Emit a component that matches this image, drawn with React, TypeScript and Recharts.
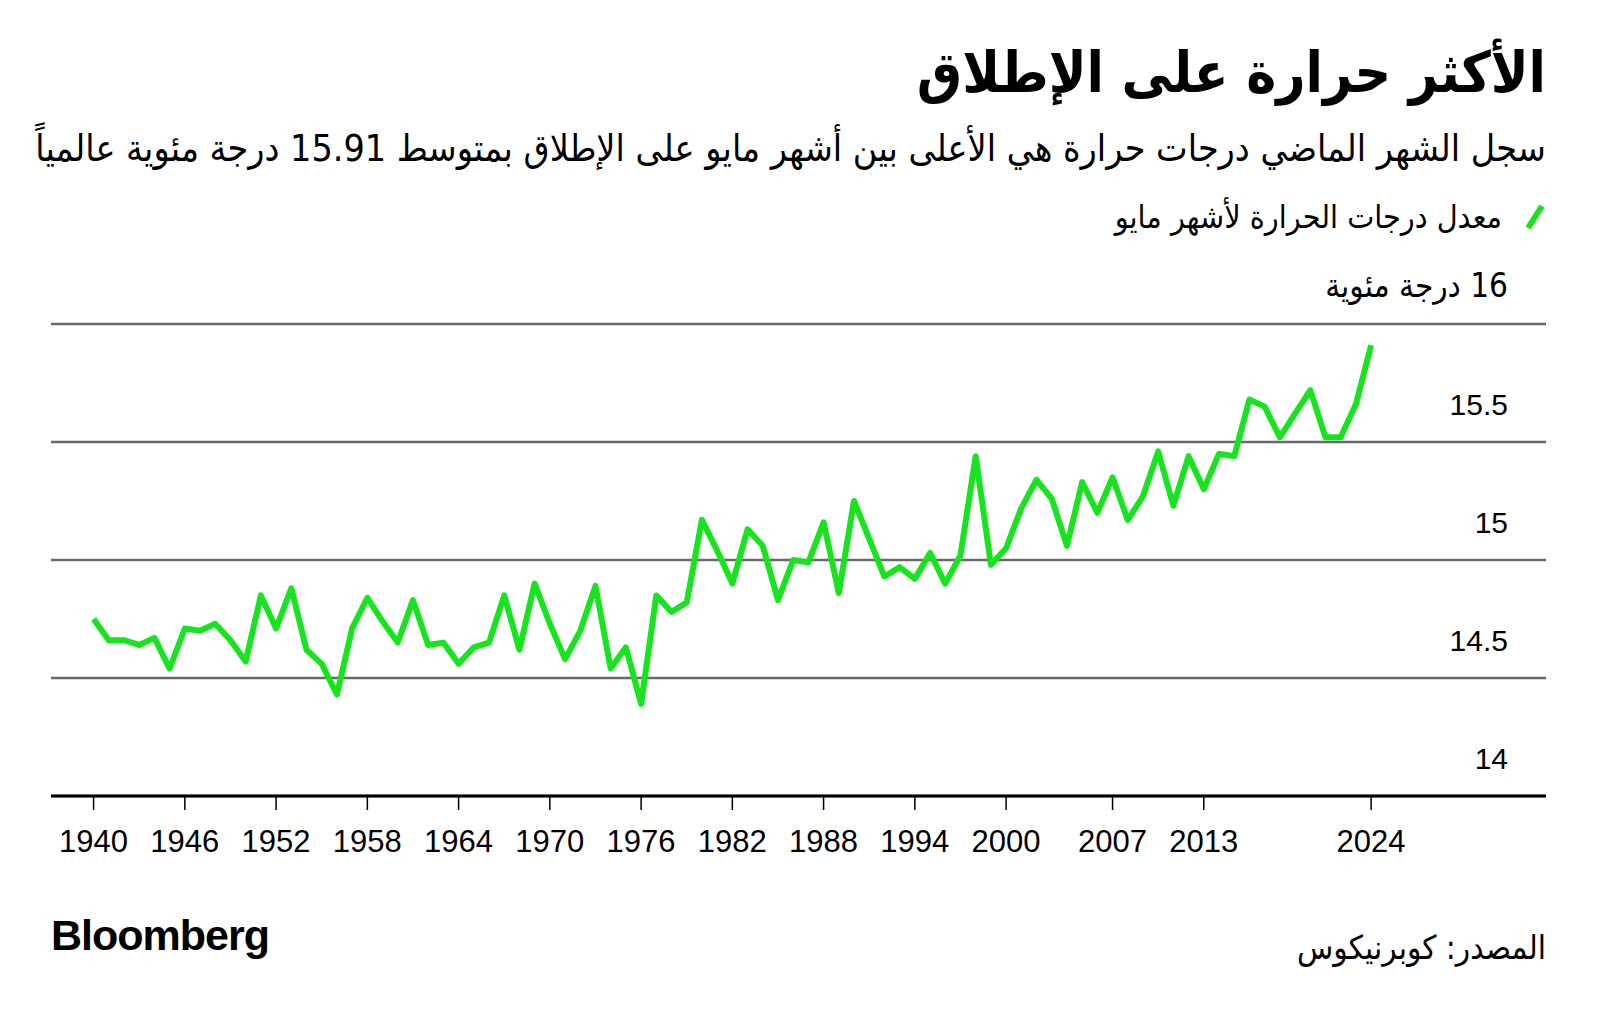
import React from 'react';
import { LineChart, Line, XAxis, YAxis, CartesianGrid } from 'recharts';

// May average global temperature, °C (Copernicus)
const years = [
  1940, 1941, 1942, 1943, 1944, 1945, 1946, 1947, 1948, 1949,
  1950, 1951, 1952, 1953, 1954, 1955, 1956, 1957, 1958, 1959,
  1960, 1961, 1962, 1963, 1964, 1965, 1966, 1967, 1968, 1969,
  1970, 1971, 1972, 1973, 1974, 1975, 1976, 1977, 1978, 1979,
  1980, 1981, 1982, 1983, 1984, 1985, 1986, 1987, 1988, 1989,
  1990, 1991, 1992, 1993, 1994, 1995, 1996, 1997, 1998, 1999,
  2000, 2001, 2002, 2003, 2004, 2005, 2006, 2007, 2008, 2009,
  2010, 2011, 2012, 2013, 2014, 2015, 2016, 2017, 2018, 2019,
  2020, 2021, 2022, 2023, 2024,
];

const mayTemps = [
  14.75, 14.66, 14.66, 14.64, 14.67, 14.54, 14.71, 14.7, 14.73, 14.66,
  14.57, 14.85, 14.71, 14.88, 14.62, 14.56, 14.43, 14.71, 14.84, 14.74,
  14.65, 14.83, 14.64, 14.65, 14.56, 14.63, 14.65, 14.85, 14.62, 14.9,
  14.73, 14.58, 14.7, 14.89, 14.54, 14.63, 14.39, 14.85, 14.78, 14.82,
  15.17, 15.04, 14.9, 15.13, 15.06, 14.83, 15.0, 14.99, 15.16, 14.86,
  15.25, 15.09, 14.93, 14.97, 14.92, 15.03, 14.9, 15.02, 15.44, 14.98,
  15.05, 15.22, 15.34, 15.26, 15.06, 15.33, 15.2, 15.35, 15.17, 15.27,
  15.46, 15.23, 15.44, 15.3, 15.45, 15.44, 15.68, 15.65, 15.52, 15.62,
  15.72, 15.52, 15.52, 15.66, 15.91,
];

const xTicks = [1940, 1946, 1952, 1958, 1964, 1970, 1976, 1982, 1988, 1994, 2000, 2007, 2013, 2024];
const yTicks = [14, 14.5, 15, 15.5, 16];
const yTopLabel = '16 درجة مئوية';

const GREEN = '#17e41f';
const ARABIC_FONT = '"DejaVu Sans Condensed", "DejaVu Sans", sans-serif';
const NUM_FONT = '"Liberation Sans", Arial, sans-serif';

const data = years.map((year, i) => ({ year, temp: mayTemps[i] }));

const renderYTick = (props: any) => {
  const { x, y, payload } = props;
  const isTop = payload.value === 16;
  return (
    <text
      key={`yt-${payload.value}`}
      x={x - 38}
      y={y - 27}
      textAnchor="start"
      direction="rtl"
      fill="#000"
      fontSize={isTop ? 33 : 30}
      fontFamily={isTop ? ARABIC_FONT : NUM_FONT}
    >
      {isTop ? yTopLabel : String(payload.value)}
    </text>
  );
};

export default function App() {
  return (
    <div
      style={{
        position: 'absolute',
        left: 0,
        top: 0,
        width: 1600,
        height: 1016,
        background: '#fff',
        overflow: 'hidden',
      }}
    >
      <LineChart
        width={1600}
        height={1016}
        data={data}
        margin={{ top: 324, right: 53, bottom: 160, left: 51 }}
        style={{ position: 'absolute', left: 0, top: 0 }}
      >
        <CartesianGrid horizontal vertical={false} stroke="#66696d" strokeWidth={2.5} />
        <XAxis
          dataKey="year"
          type="number"
          domain={[1937.2, 2035.5]}
          ticks={xTicks}
          height={60}
          axisLine={{ stroke: '#000', strokeWidth: 3 }}
          tickLine={{ stroke: '#000', strokeWidth: 1.5 }}
          tickSize={14}
          tickMargin={20}
          tick={{ fill: '#000', fontSize: 31, fontFamily: NUM_FONT }}
          interval={0}
        />
        <YAxis
          orientation="right"
          domain={[14, 16]}
          ticks={yTicks}
          width={1}
          axisLine={false}
          tickLine={false}
          tickSize={0}
          tickMargin={0}
          tick={renderYTick}
          interval={0}
        />
        <Line
          type="linear"
          dataKey="temp"
          stroke={GREEN}
          strokeWidth={6}
          strokeLinejoin="round"
          dot={false}
          isAnimationActive={false}
        />
      </LineChart>

      <div
        dir="rtl"
        style={{
          position: 'absolute',
          right: 54,
          top: 45,
          fontFamily: ARABIC_FONT,
          fontWeight: 700,
          fontSize: 56.5,
          lineHeight: 1,
          color: '#000',
          whiteSpace: 'nowrap',
        }}
      >
        الأكثر حرارة على الإطلاق
      </div>

      <div
        dir="rtl"
        style={{
          position: 'absolute',
          right: 54,
          top: 130,
          fontFamily: ARABIC_FONT,
          fontSize: 37.3,
          lineHeight: 1,
          color: '#000',
          whiteSpace: 'nowrap',
        }}
      >
        سجل الشهر الماضي درجات حرارة هي الأعلى بين أشهر مايو على الإطلاق بمتوسط 15.91 درجة مئوية عالمياً
      </div>

      <div
        dir="rtl"
        style={{
          position: 'absolute',
          right: 54,
          top: 201,
          display: 'flex',
          alignItems: 'center',
          fontFamily: ARABIC_FONT,
          fontSize: 32,
          lineHeight: 1,
          color: '#000',
          whiteSpace: 'nowrap',
        }}
      >
        <svg width={22} height={28} style={{ marginLeft: 22 }}>
          <line x1={4} y1={25} x2={18} y2={3} stroke={GREEN} strokeWidth={6} />
        </svg>
        <span>معدل درجات الحرارة لأشهر مايو</span>
      </div>

      <div
        style={{
          position: 'absolute',
          left: 51,
          top: 914,
          fontFamily: NUM_FONT,
          fontWeight: 700,
          fontSize: 43,
          letterSpacing: -1,
          lineHeight: 1,
          color: '#000',
        }}
      >
        Bloomberg
      </div>

      <div
        dir="rtl"
        style={{
          position: 'absolute',
          right: 54,
          top: 931,
          fontFamily: ARABIC_FONT,
          fontSize: 33,
          lineHeight: 1,
          color: '#000',
          whiteSpace: 'nowrap',
        }}
      >
        المصدر: كوبرنيكوس
      </div>
    </div>
  );
}
